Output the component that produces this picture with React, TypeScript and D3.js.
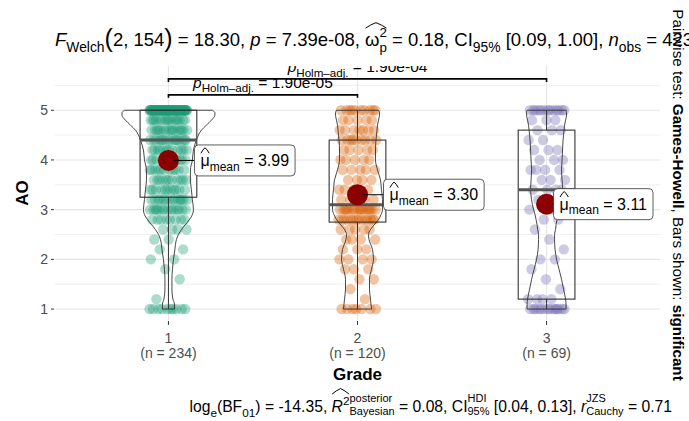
import React, { useEffect, useRef } from 'react';
import * as d3 from 'd3';

// ---------------- data ----------------
const grades = ['1', '2', '3'];
const nLabels = ['(n = 234)', '(n = 120)', '(n = 69)'];
const groupColors = ['#1B9E77', '#D95F02', '#7570B3'];
const aoLevels = [1.0, 1.2, 1.4, 1.6, 1.8, 2.0, 2.2, 2.4, 2.6, 2.8, 3.0, 3.2, 3.4, 3.6, 3.8, 4.0, 4.2, 4.4, 4.6, 4.8, 5.0];
// number of observations at each AO level
const counts1 = [10, 1, 0, 1, 1, 2, 2, 2, 4, 8, 14, 14, 11, 11, 11, 12, 12, 16, 16, 16, 70];
const counts2 = [7, 1, 1, 2, 3, 4, 3, 4, 5, 14, 16, 6, 4, 4, 5, 5, 5, 9, 7, 5, 10];
const counts3 = [14, 4, 1, 1, 1, 2, 1, 1, 1, 2, 2, 1, 4, 3, 4, 3, 3, 2, 3, 3, 13];
// relative kernel density (violin half widths) on a grid of AO values
const densLevels = [1.0, 1.1, 1.2, 1.4, 1.6, 1.8, 2.0, 2.2, 2.4, 2.5, 2.6, 2.7, 2.8, 2.9, 3.0, 3.2, 3.4, 3.6, 3.8, 4.0, 4.2, 4.4, 4.5, 4.6, 4.7, 4.8, 4.9, 4.95, 5.0];
const dens1 = [0.127, 0.127, 0.095, 0.074, 0.074, 0.085, 0.106, 0.137, 0.169, 0.211, 0.275, 0.359, 0.444, 0.507, 0.529, 0.507, 0.486, 0.465, 0.465, 0.507, 0.529, 0.592, 0.634, 0.698, 0.803, 0.909, 0.983, 0.983, 0.93];
const dens2 = [0.296, 0.285, 0.275, 0.254, 0.254, 0.296, 0.338, 0.317, 0.243, 0.233, 0.275, 0.359, 0.444, 0.497, 0.529, 0.529, 0.507, 0.486, 0.423, 0.381, 0.381, 0.391, 0.402, 0.412, 0.423, 0.444, 0.465, 0.465, 0.444];
const dens3 = [0.412, 0.412, 0.402, 0.359, 0.317, 0.264, 0.211, 0.18, 0.169, 0.169, 0.19, 0.201, 0.222, 0.243, 0.275, 0.317, 0.338, 0.328, 0.317, 0.328, 0.338, 0.349, 0.359, 0.37, 0.381, 0.402, 0.423, 0.423, 0.412];
const means = [3.99, 3.3, 3.11];
const meanLabels = ['3.99', '3.30', '3.11'];
const yTicks = [1, 2, 3, 4, 5];
const yMinor = [1.5, 2.5, 3.5, 4.5, 5.5];
const pairFrom = [1, 1];
const pairTo = [2, 3];
const pairP = ['1.90e-05', '1.90e-04'];

const titleStats = { df1: '2', df2: '154', F: '18.30', p: '7.39e-08', es: '0.18', ci: '[0.09, 1.00]', n: '423' };
const bayesStats = { bf: '-14.35', r2: '0.08', ci: '[0.04, 0.13]', r: '0.71' };

// ---------------- layout ----------------
const W = 689;
const H = 421;
const FONT = "'Liberation Sans', Arial, Helvetica, sans-serif";
const labelOffsets = [26, 26, 7];

type Piece = { t?: string; st?: [string, string]; s?: number; dy?: number; it?: boolean; b?: boolean; h?: boolean };

function rich(
  parent: d3.Selection<SVGGElement, unknown, null, undefined>,
  pieces: Piece[],
  x: number,
  y: number,
  size: number,
  anchor: 'start' | 'middle' | 'end',
  opts: { rot?: number; hatY?: number; color?: string; supDy?: number; subDy?: number; stackS?: number } = {}
) {
  const g = parent.append('g');
  const color = opts.color ?? '#000';
  let cx = 0;
  let hx0 = Infinity;
  let hx1 = -Infinity;
  const mk = (str: string, sz: number, yy: number, it?: boolean, b?: boolean) => {
    const t = g
      .append('text')
      .attr('x', cx)
      .attr('y', yy)
      .attr('font-size', sz)
      .attr('font-family', FONT)
      .attr('fill', color)
      .style('white-space', 'pre')
      .text(str);
    if (it) t.attr('font-style', 'italic');
    if (b) t.attr('font-weight', 'bold');
    return (t.node() as SVGTextElement).getComputedTextLength();
  };
  for (const p of pieces) {
    const start = cx;
    if (p.st) {
      const sz = size * (p.s ?? opts.stackS ?? 0.72);
      const w1 = mk(p.st[0], sz, (opts.supDy ?? -0.5) * size);
      const w2 = mk(p.st[1], sz, (opts.subDy ?? 0.3) * size);
      cx += Math.max(w1, w2);
    } else {
      const sz = size * (p.s ?? 1);
      cx += mk(p.t ?? '', sz, (p.dy ?? 0) * size, p.it, p.b);
    }
    if (p.h) {
      hx0 = Math.min(hx0, start);
      hx1 = Math.max(hx1, cx);
    }
  }
  if (hx1 > hx0) {
    const hy = (opts.hatY ?? -1) * size;
    const mid = (hx0 + hx1) / 2;
    g.append('path')
      .attr('d', `M${hx0 + 0.5},${hy + 2.5} Q${hx0 + (mid - hx0) * 0.5},${hy - 1} ${mid},${hy - 3} Q${mid + (hx1 - mid) * 0.5},${hy - 1} ${hx1 - 0.5},${hy + 2.5}`)
      .attr('fill', 'none')
      .attr('stroke', color)
      .attr('stroke-width', 1);
  }
  const shift = anchor === 'middle' ? -cx / 2 : anchor === 'end' ? -cx : 0;
  g.attr('transform', `translate(${x},${y}) rotate(${opts.rot ?? 0}) translate(${shift},0)`);
  return { g, width: cx };
}

function draw(svgEl: SVGSVGElement) {
  const svg = d3.select(svgEl);
  svg.selectAll('*').remove();
  svg.append('rect').attr('x', 0).attr('y', 0).attr('width', W).attr('height', H).attr('fill', '#fff');
  const root = svg.append('g') as unknown as d3.Selection<SVGGElement, unknown, null, undefined>;

  const x = d3.scaleLinear().domain([0.4, 3.6]).range([55, 660]);
  const y = d3.scaleLinear().domain([0.78, 5.89]).range([320, 66]);
  const [px0, px1] = x.range();
  const [py1, py0] = y.range();
  const step = x(2) - x(1);

  const defs = svg.append('defs');
  defs.append('clipPath').attr('id', 'panelClip').append('rect').attr('x', px0).attr('y', py0).attr('width', px1 - px0).attr('height', py1 - py0);

  // grid
  const grid = root.append('g');
  grid.selectAll('line.minor').data(yMinor).join('line')
    .attr('x1', px0).attr('x2', px1).attr('y1', (d) => y(d)).attr('y2', (d) => y(d))
    .attr('stroke', '#EFEFEF').attr('stroke-width', 1);
  grid.selectAll('line.major').data(yTicks).join('line')
    .attr('x1', px0).attr('x2', px1).attr('y1', (d) => y(d)).attr('y2', (d) => y(d))
    .attr('stroke', '#E6E6E6').attr('stroke-width', 1.1);
  grid.selectAll('line.vmajor').data(grades).join('line')
    .attr('x1', (_d, i) => x(i + 1)).attr('x2', (_d, i) => x(i + 1)).attr('y1', py0).attr('y2', py1)
    .attr('stroke', '#E6E6E6').attr('stroke-width', 1.1);

  const countsAll = [counts1, counts2, counts3];
  const densAll = [dens1, dens2, dens3];

  // jittered points
  const pointsG = root.append('g');
  countsAll.forEach((counts, gi) => {
    const cx = x(gi + 1);
    const pts: { v: number; o: number }[] = [];
    let k = 0;
    aoLevels.forEach((v, li) => {
      for (let j = 0; j < counts[li]; j++) {
        const o = ((k * 0.6180339887 + gi * 0.37) % 1) * 2 - 1;
        pts.push({ v, o });
        k++;
      }
    });
    pointsG.append('g').selectAll('circle').data(pts).join('circle')
      .attr('cx', (d) => cx + d.o * step * 0.1)
      .attr('cy', (d) => y(d.v))
      .attr('r', 5.2)
      .attr('fill', groupColors[gi])
      .attr('fill-opacity', 0.36);
  });

  // violins
  const wScale = d3.scaleLinear().domain([0, 1]).range([0, step * 0.25]);
  densAll.forEach((dens, gi) => {
    const cx = x(gi + 1);
    const data = densLevels.map((v, i) => ({ v, d: dens[i] }));
    const area = d3.area<{ v: number; d: number }>()
      .y((d) => y(d.v))
      .x0((d) => cx - wScale(d.d))
      .x1((d) => cx + wScale(d.d))
      .curve(d3.curveMonotoneY);
    root.append('path').attr('d', area(data) as string)
      .attr('fill', 'none').attr('stroke', '#333').attr('stroke-width', 0.9).attr('stroke-linejoin', 'round');
  });

  // boxplots
  countsAll.forEach((counts, gi) => {
    const cx = x(gi + 1);
    const vals: number[] = [];
    aoLevels.forEach((v, li) => { for (let j = 0; j < counts[li]; j++) vals.push(v); });
    vals.sort((a, b) => a - b);
    const q1 = d3.quantile(vals, 0.25) as number;
    const med = d3.quantile(vals, 0.5) as number;
    const q3 = d3.quantile(vals, 0.75) as number;
    const iqr = q3 - q1;
    const lo = d3.min(vals.filter((v) => v >= q1 - 1.5 * iqr)) as number;
    const hi = d3.max(vals.filter((v) => v <= q3 + 1.5 * iqr)) as number;
    const bw = step * 0.15;
    const bg = root.append('g');
    bg.append('line').attr('x1', cx).attr('x2', cx).attr('y1', y(q1)).attr('y2', y(lo)).attr('stroke', '#333').attr('stroke-width', 1);
    bg.append('line').attr('x1', cx).attr('x2', cx).attr('y1', y(q3)).attr('y2', y(hi)).attr('stroke', '#333').attr('stroke-width', 1);
    bg.append('rect').attr('x', cx - bw).attr('width', bw * 2).attr('y', y(q3)).attr('height', y(q1) - y(q3))
      .attr('fill', 'none').attr('stroke', '#333').attr('stroke-width', 1.1);
    bg.append('line').attr('x1', cx - bw).attr('x2', cx + bw).attr('y1', y(med)).attr('y2', y(med))
      .attr('stroke', '#555').attr('stroke-width', 3);
  });

  // significance bars (clipped to panel)
  const barsG = root.append('g').attr('clip-path', 'url(#panelClip)');
  const barBase = 5.31;
  const barStep = 0.32;
  pairFrom.forEach((f, i) => {
    const by = y(barBase + barStep * i);
    const xa = x(f);
    const xb = x(pairTo[i]);
    barsG.append('path').attr('d', `M${xa},${by + 3}L${xa},${by}L${xb},${by}L${xb},${by + 3}`)
      .attr('fill', 'none').attr('stroke', '#000').attr('stroke-width', 1.6);
    rich(barsG, [
      { t: 'p', it: true },
      { t: 'Holm\u2013adj.', s: 0.75, dy: 0.3 },
      { t: ' = ' + pairP[i] },
    ], (xa + xb) / 2, by - 7, 15.5, 'middle');
  });

  // means + labels
  means.forEach((m, gi) => {
    const cx = x(gi + 1);
    const cy = y(m);
    root.append('circle').attr('cx', cx).attr('cy', cy).attr('r', 10.5).attr('fill', '#8B0000');
    const lx = cx + labelOffsets[gi];
    root.append('line').attr('x1', cx + 5).attr('x2', lx).attr('y1', cy).attr('y2', cy).attr('stroke', '#000').attr('stroke-width', 1);
    const lg = root.append('g');
    const box = lg.append('rect');
    const r = rich(lg, [
      { t: '\u03bc', h: true },
      { t: 'mean', s: 0.75, dy: 0.3 },
      { t: ' = ' + meanLabels[gi] },
    ], lx + 6, cy + 5.5, 16, 'start', { hatY: -0.95 });
    box.attr('x', lx).attr('y', cy - 15.5).attr('width', r.width + 12).attr('height', 31).attr('rx', 4)
      .attr('fill', '#fff').attr('stroke', '#333').attr('stroke-width', 0.8);
  });

  // y axis
  const axG = root.append('g');
  yTicks.forEach((t) => {
    axG.append('line').attr('x1', px0 - 4).attr('x2', px0 - 1).attr('y1', y(t)).attr('y2', y(t)).attr('stroke', '#333').attr('stroke-width', 1);
    axG.append('text').attr('x', px0 - 7).attr('y', y(t) + 5).attr('text-anchor', 'end')
      .attr('font-family', FONT).attr('font-size', 14).attr('fill', '#4D4D4D').text(String(t));
  });
  // x axis
  grades.forEach((gname, i) => {
    const cx = x(i + 1);
    axG.append('line').attr('x1', cx).attr('x2', cx).attr('y1', py1 + 1).attr('y2', py1 + 5).attr('stroke', '#333').attr('stroke-width', 1);
    axG.append('text').attr('x', cx).attr('y', 343).attr('text-anchor', 'middle')
      .attr('font-family', FONT).attr('font-size', 14).attr('fill', '#4D4D4D').text(gname);
    axG.append('text').attr('x', cx).attr('y', 358).attr('text-anchor', 'middle')
      .attr('font-family', FONT).attr('font-size', 14).attr('fill', '#4D4D4D').text(nLabels[i]);
  });
  root.append('text').attr('x', (px0 + px1) / 2).attr('y', 380).attr('text-anchor', 'middle')
    .attr('font-family', FONT).attr('font-size', 17).attr('font-weight', 'bold').text('Grade');
  root.append('text').attr('transform', `translate(28,${(py0 + py1) / 2}) rotate(-90)`).attr('text-anchor', 'middle')
    .attr('font-family', FONT).attr('font-size', 17).attr('font-weight', 'bold').text('AO');

  // title (subtitle)
  rich(root, [
    { t: 'F', it: true },
    { t: 'Welch', s: 0.75, dy: 0.3 },
    { t: '(', s: 1.35, dy: 0.08 },
    { t: `${titleStats.df1}, ${titleStats.df2}` },
    { t: ')', s: 1.35, dy: 0.08 },
    { t: ` = ${titleStats.F}, ` },
    { t: 'p', it: true },
    { t: ` = ${titleStats.p}, ` },
    { t: '\u03c9', h: true },
    { st: ['2', 'p'], h: true },
    { t: ` = ${titleStats.es}, CI` },
    { t: '95%', s: 0.75, dy: 0.3 },
    { t: ` ${titleStats.ci}, ` },
    { t: 'n', it: true },
    { t: 'obs', s: 0.75, dy: 0.3 },
    { t: ` = ${titleStats.n}` },
  ], px0, 46, 18.5, 'start', { hatY: -1.1, supDy: -0.5, subDy: 0.35 });

  // caption
  rich(root, [
    { t: 'log' },
    { t: 'e', s: 0.75, dy: 0.3 },
    { t: '(BF' },
    { t: '01', s: 0.75, dy: 0.3 },
    { t: `) = ${bayesStats.bf}, ` },
    { t: 'R', it: true, h: true },
    { t: '2', s: 0.75, dy: -0.45, h: true },
    { st: ['posterior', 'Bayesian'] },
    { t: ` = ${bayesStats.r2}, CI` },
    { st: ['HDI', '95%'] },
    { t: ` ${bayesStats.ci}, ` },
    { t: 'r', it: true },
    { st: ['JZS', 'Cauchy'] },
    { t: ` = ${bayesStats.r}` },
  ], 672, 412, 15.7, 'end', { hatY: -1.3, supDy: -0.65, subDy: 0.22, stackS: 0.7 });

  // right-side rotated text
  rich(root, [
    { t: 'Pairwise test: ' },
    { t: 'Games-Howell', b: true },
    { t: ', Bars shown: ' },
    { t: 'significant', b: true },
  ], 673, (py0 + py1) / 2 + 2, 15.2, 'middle', { rot: 90 });
}

export default function App() {
  const ref = useRef<SVGSVGElement>(null);
  useEffect(() => {
    if (ref.current) draw(ref.current);
  }, []);
  return (
    <svg
      ref={ref}
      width={W}
      height={H}
      viewBox={`0 0 ${W} ${H}`}
      style={{ position: 'absolute', left: 0, top: 0, display: 'block' }}
    />
  );
}
